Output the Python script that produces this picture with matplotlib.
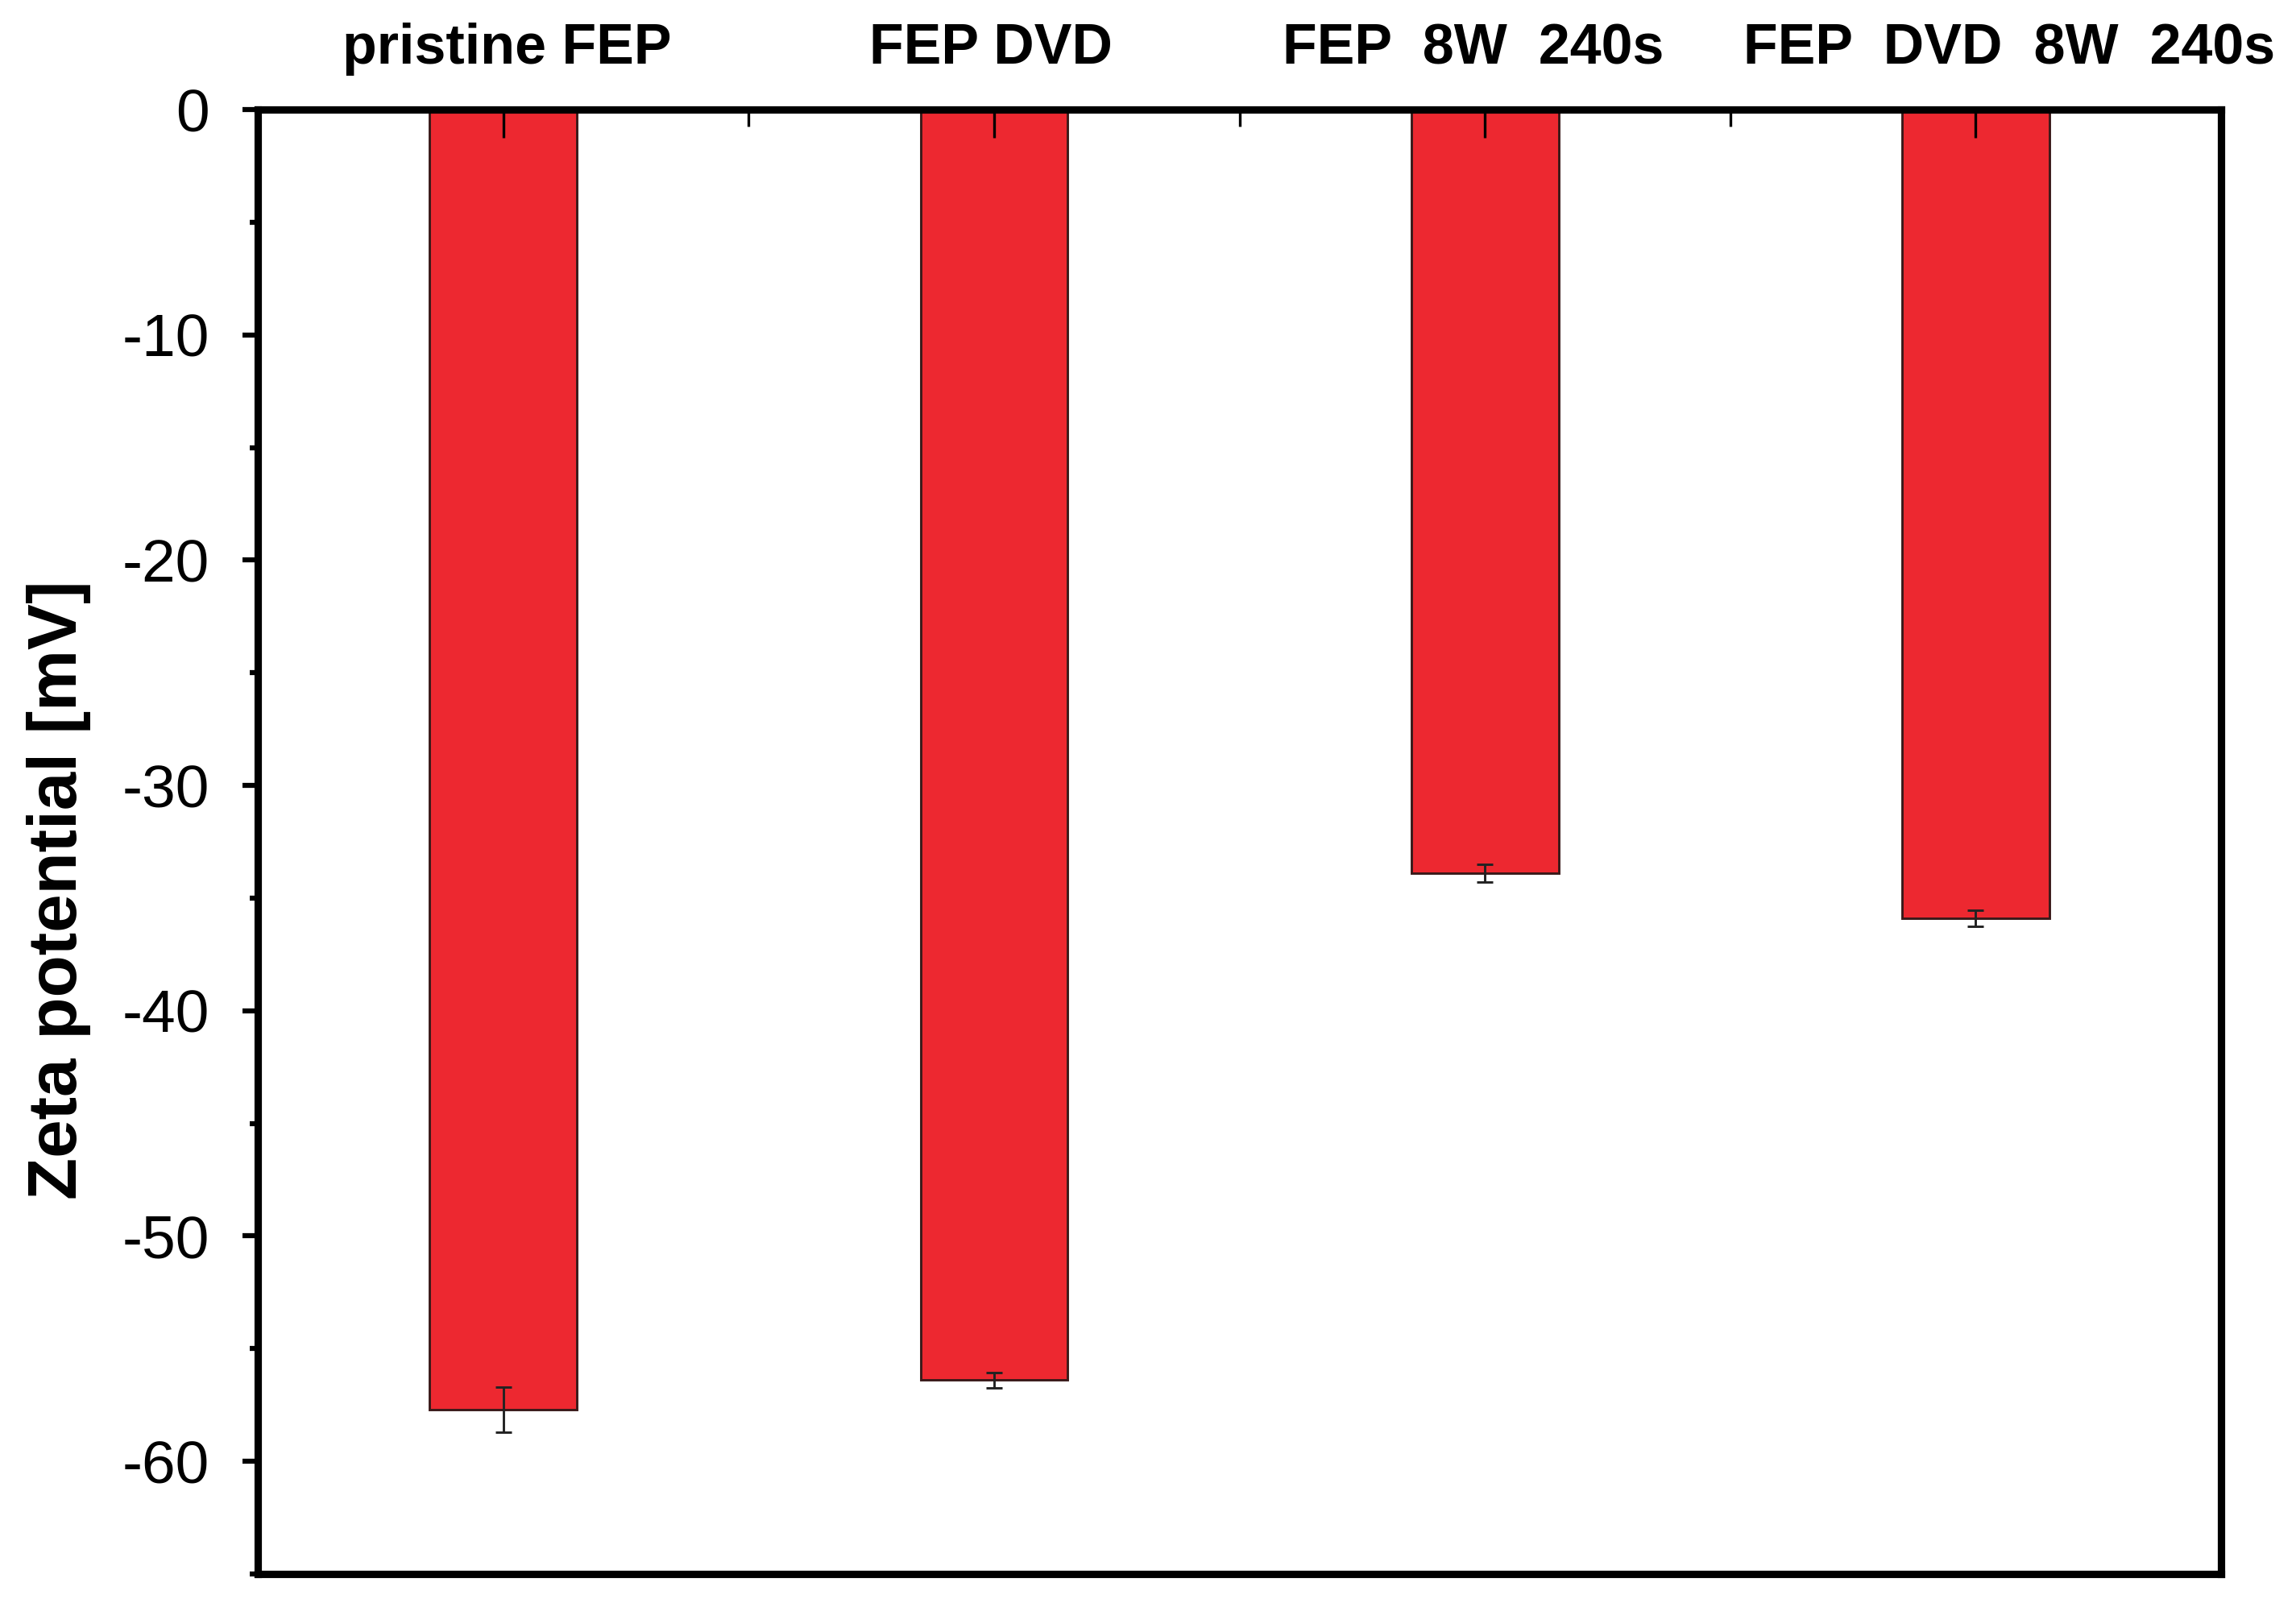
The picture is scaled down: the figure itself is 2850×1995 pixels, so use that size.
import matplotlib
matplotlib.use("Agg")
import matplotlib.pyplot as plt
from matplotlib.ticker import FixedLocator, MultipleLocator
from matplotlib.transforms import ScaledTranslation

# Données
echantillons = ["pristine FEP", "FEP DVD", "FEP  8W  240s", "FEP  DVD  8W  240s"]
zeta = [-57.7, -56.4, -33.9, -35.9]
erreur = [1.0, 0.35, 0.4, 0.35]

plt.rcParams["font.family"] = ["Liberation Sans", "DejaVu Sans"]
plt.rcParams["axes.unicode_minus"] = False  # tiret simple comme sur l'original

fig = plt.figure(figsize=(9.5, 6.65), dpi=300)
ax = fig.add_axes([0.1123, 0.0206, 0.8551, 0.9112])
ax.set_axisbelow(False)  # graduations visibles par-dessus les barres

positions = list(range(1, len(echantillons) + 1))
ax.bar(positions, zeta, width=0.30, color="#ED2830", edgecolor="#3a1a1a",
       linewidth=0.7, zorder=2)
ax.errorbar(positions, zeta, yerr=erreur, fmt="none", ecolor="#222222",
            elinewidth=0.7, capsize=2.5, capthick=0.7, zorder=3)

ax.set_xlim(0.5, 4.5)
ax.set_ylim(-65, 0)

# axe x en haut, graduations vers l'intérieur
ax.xaxis.set_ticks_position("top")
ax.set_xticks(positions)
ax.set_xticklabels(echantillons, fontsize=16.8, fontweight="bold")
ax.xaxis.set_minor_locator(FixedLocator([1.5, 2.5, 3.5]))
ax.tick_params(axis="x", which="major", direction="in", length=8.5, width=0.8, pad=10)
ax.tick_params(axis="x", which="minor", direction="in", length=5, width=0.8)

# petits décalages des étiquettes comme sur l'original
decalages_pt = [1, -1, -3.5, 10]
for lab, dx in zip(ax.get_xticklabels(), decalages_pt):
    lab.set_transform(lab.get_transform() + ScaledTranslation(dx / 72, 0, fig.dpi_scale_trans))

ax.set_yticks([0, -10, -20, -30, -40, -50, -60])
ax.yaxis.set_minor_locator(MultipleLocator(5))
ax.tick_params(axis="y", which="major", direction="out", length=4.5, width=1.5,
               labelsize=18, pad=10)
ax.tick_params(axis="y", which="minor", direction="out", length=2.5, width=1.5)

for s in ax.spines.values():
    s.set_linewidth(2.2)

ax.set_ylabel("Zeta potential [mV]", fontsize=20.5, fontweight="bold")
ax.yaxis.set_label_coords(-0.085, 0.467)

fig.savefig("out.png", dpi=300)
